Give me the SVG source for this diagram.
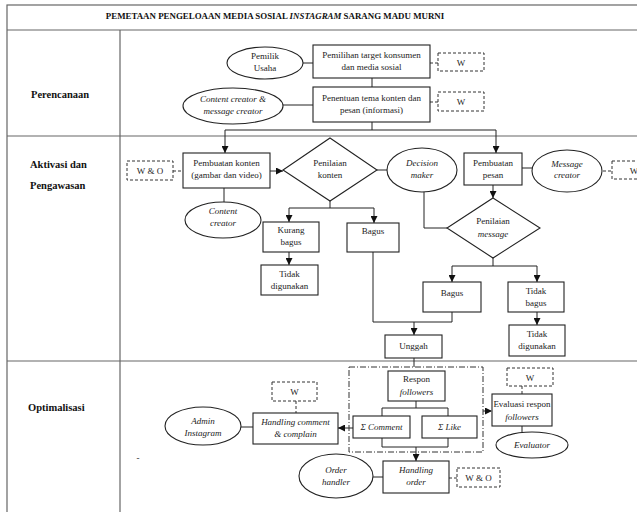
<svg xmlns="http://www.w3.org/2000/svg" width="637" height="512" viewBox="0 0 637 512">
<style>
.t{font-family:"Liberation Serif","Times New Roman","DejaVu Serif",serif;font-size:9px;fill:#222;text-anchor:middle}
.i{font-style:italic}
.lab{font-family:"Liberation Serif","Times New Roman","DejaVu Serif",serif;font-size:10.5px;font-weight:bold;fill:#111}
.ttl{font-family:"Liberation Serif","Times New Roman","DejaVu Serif",serif;font-size:8.9px;font-weight:bold;fill:#111;text-anchor:middle}
.grid{fill:none;stroke:#666;stroke-width:1.2}
.box{fill:#fff;stroke:#222;stroke-width:1.1}
.dbox{fill:#fff;stroke:#333;stroke-width:1;stroke-dasharray:3,2}
.ln{fill:none;stroke:#222;stroke-width:1}
.dl{fill:none;stroke:#333;stroke-width:1;stroke-dasharray:3,2}
.ar{fill:none;stroke:#222;stroke-width:1;marker-end:url(#ah)}
</style>
<defs>
<marker id="ah" viewBox="0 0 8 8" refX="8" refY="4" markerWidth="7" markerHeight="7" markerUnits="userSpaceOnUse" orient="auto">
<path d="M0,0 L8,4 L0,8 z" fill="#111"/>
</marker>
</defs>
<rect width="637" height="512" fill="#fff"/>
<g id="table">
<rect class="grid" x="7" y="5" width="640" height="520"/>
<line class="grid" x1="7" y1="30" x2="637" y2="30"/>
<line class="grid" x1="120" y1="30" x2="120" y2="512"/>
<line class="grid" x1="7" y1="136" x2="637" y2="136"/>
<line class="grid" x1="7" y1="361" x2="637" y2="361"/>
<text class="ttl" x="275" y="19">PEMETAAN PENGELOAAN MEDIA SOSIAL <tspan font-style="italic">INSTAGRAM</tspan> SARANG MADU MURNI</text>
<text class="lab" x="31" y="98">Perencanaan</text>
<text class="lab" x="30" y="168">Aktivasi dan</text>
<text class="lab" x="30" y="189">Pengawasan</text>
<text class="lab" x="28" y="411">Optimalisasi</text>
<text class="t" x="138" y="461">-</text>
</g>
<g id="connectors">
<line class="ln" x1="303" y1="63" x2="313" y2="63"/>
<line class="dl" x1="430" y1="63" x2="438" y2="63"/>
<line class="ln" x1="372" y1="78" x2="372" y2="87"/>
<line class="ln" x1="283" y1="105" x2="313" y2="105"/>
<line class="dl" x1="430" y1="102" x2="438" y2="102"/>
<polyline class="ln" points="372,122 372,130"/>
<line class="ln" x1="225" y1="130" x2="496" y2="130"/>
<line class="ar" x1="225" y1="130" x2="225" y2="153"/>
<line class="ar" x1="496" y1="130" x2="496" y2="153"/>
<line class="dl" x1="173" y1="171" x2="183" y2="171"/>
<line class="ar" x1="270" y1="171" x2="283" y2="171"/>
<line class="ln" x1="224" y1="188" x2="224" y2="202"/>
<line class="ln" x1="377" y1="170" x2="387" y2="170"/>
<polyline class="ln" points="424,192 424,228 447,228"/>
<line class="ln" x1="522" y1="168" x2="532" y2="168"/>
<line class="dl" x1="603" y1="171" x2="612" y2="171"/>
<line class="ar" x1="493" y1="185" x2="493" y2="198"/>
<line class="ln" x1="330" y1="201" x2="330" y2="208"/>
<line class="ln" x1="289" y1="208" x2="374" y2="208"/>
<line class="ar" x1="289" y1="208" x2="289" y2="222"/>
<line class="ar" x1="374" y1="208" x2="374" y2="223"/>
<line class="ar" x1="289" y1="252" x2="289" y2="265"/>
<line class="ln" x1="493" y1="258" x2="493" y2="266"/>
<line class="ln" x1="452" y1="266" x2="537" y2="266"/>
<line class="ar" x1="452" y1="266" x2="452" y2="282"/>
<line class="ar" x1="537" y1="266" x2="537" y2="282"/>
<line class="ar" x1="537" y1="312" x2="537" y2="325"/>
<polyline class="ln" points="373,252 373,322 452,322 452,312"/>
<line class="ar" x1="414" y1="322" x2="414" y2="335"/>
<line class="ln" x1="414" y1="358" x2="414" y2="367"/>
<line class="ln" x1="416" y1="401" x2="416" y2="408"/>
<polyline class="ln" points="382,416 382,408 448,408 448,416"/>
<polyline class="ln" points="382,438 382,447 448,447 448,438"/>
<line class="ar" x1="416" y1="447" x2="416" y2="461"/>
<line class="ar" x1="353" y1="428" x2="338" y2="428"/>
<line class="dl" x1="296" y1="401" x2="296" y2="413"/>
<line class="ln" x1="241" y1="427" x2="253" y2="427"/>
<line class="ln" x1="373" y1="477" x2="383" y2="477"/>
<line class="dl" x1="449" y1="478" x2="457" y2="478"/>
<line class="ar" x1="483" y1="411" x2="492" y2="411" stroke-dasharray="3,2"/>
<line class="dl" x1="522" y1="386" x2="522" y2="394"/>
<line class="ln" x1="522" y1="426" x2="522" y2="432"/>
</g>
<g id="pemilik"><ellipse class="box" cx="265" cy="63" rx="38" ry="16"/><text class="t" x="265" y="59">Pemilik</text><text class="t" x="265" y="71">Usaha</text></g>
<g id="pemilihan"><rect class="box" x="313" y="45" width="117" height="33"/><text class="t" x="371.5" y="58">Pemilihan target konsumen</text><text class="t" x="371.5" y="70">dan media sosial</text></g>
<g id="w1"><rect class="dbox" x="438" y="53" width="46" height="18"/><text class="t" x="461" y="66">W</text></g>
<g id="cc_mc"><ellipse class="box" cx="233" cy="106" rx="50" ry="18"/><text class="t i" x="233" y="102">Content creator &amp;</text><text class="t i" x="233" y="114">message creator</text></g>
<g id="penentuan"><rect class="box" x="313" y="87" width="117" height="35"/><text class="t" x="371.5" y="101">Penentuan tema konten dan</text><text class="t" x="371.5" y="113">pesan (informasi)</text></g>
<g id="w2"><rect class="dbox" x="438" y="92" width="46" height="19"/><text class="t" x="461" y="105">W</text></g>
<g id="wo1"><rect class="dbox" x="127" y="161" width="46" height="19"/><text class="t" x="150" y="174">W &amp; O</text></g>
<g id="pembuatan_konten"><rect class="box" x="183" y="153" width="87" height="35"/><text class="t" x="226.5" y="166">Pembuatan konten</text><text class="t" x="226.5" y="178">(gambar dan video)</text></g>
<g id="content_creator"><ellipse class="box" cx="223" cy="220" rx="38" ry="18"/><text class="t i" x="223" y="214">Content</text><text class="t i" x="223" y="226">creator</text></g>
<g id="penilaian_konten"><polygon class="box" points="330,138 377,170 330,201 283,170"/><text class="t" x="330" y="166">Penilaian</text><text class="t" x="330" y="178">konten</text></g>
<g id="decision_maker"><ellipse class="box" cx="422" cy="170" rx="35" ry="22"/><text class="t i" x="422" y="166">Decision</text><text class="t i" x="422" y="178">maker</text></g>
<g id="pembuatan_pesan"><rect class="box" x="464" y="153" width="58" height="32"/><text class="t" x="493" y="166">Pembuatan</text><text class="t" x="493" y="178">pesan</text></g>
<g id="message_creator"><ellipse class="box" cx="567" cy="171" rx="35" ry="21"/><text class="t i" x="567" y="167">Message</text><text class="t i" x="567" y="178">creator</text></g>
<g id="w3"><rect class="dbox" x="612" y="161" width="46" height="18"/><text class="t" x="634" y="174">W</text></g>
<g id="kurang_bagus"><rect class="box" x="263" y="222" width="56" height="30"/><text class="t" x="291" y="233">Kurang</text><text class="t" x="291" y="245">bagus</text></g>
<g id="bagus1"><rect class="box" x="347" y="223" width="52" height="29"/><text class="t" x="373" y="234">Bagus</text></g>
<g id="tidak_digunakan1"><rect class="box" x="261" y="265" width="57" height="30"/><text class="t" x="289.5" y="277">Tidak</text><text class="t" x="289.5" y="289">digunakan</text></g>
<g id="penilaian_message"><polygon class="box" points="493,198 540,228 493,258 447,228"/><text class="t" x="493" y="224">Penilaian</text><text class="t i" x="493" y="237">message</text></g>
<g id="bagus2"><rect class="box" x="423" y="282" width="58" height="30"/><text class="t" x="452" y="296">Bagus</text></g>
<g id="tidak_bagus"><rect class="box" x="508" y="282" width="56" height="30"/><text class="t" x="536" y="294">Tidak</text><text class="t" x="536" y="306">bagus</text></g>
<g id="tidak_digunakan2"><rect class="box" x="509" y="325" width="56" height="31"/><text class="t" x="537" y="337">Tidak</text><text class="t" x="537" y="349">digunakan</text></g>
<g id="unggah"><rect class="box" x="385" y="335" width="57" height="23"/><text class="t" x="413.5" y="349">Unggah</text></g>
<g id="group_respon"><rect x="349" y="367" width="134" height="85" fill="none" stroke="#333" stroke-width="1" stroke-dasharray="6,2,1,2"/></g>
<g id="respon"><rect class="box" x="388" y="371" width="57" height="30"/><text class="t" x="416.5" y="382">Respon</text><text class="t i" x="416.5" y="395">followers</text></g>
<g id="sum_comment"><rect class="box" x="353" y="416" width="57" height="22"/><text class="t i" x="381.5" y="430">Σ Comment</text></g>
<g id="sum_like"><rect class="box" x="422" y="416" width="55" height="22"/><text class="t i" x="449.5" y="430">Σ Like</text></g>
<g id="w4"><rect class="dbox" x="272" y="382" width="45" height="19"/><text class="t" x="294.5" y="395">W</text></g>
<g id="handling_comment"><rect class="box" x="253" y="413" width="85" height="31"/><text class="t i" x="295.5" y="425">Handling comment</text><text class="t i" x="295.5" y="437">&amp; complain</text></g>
<g id="admin"><ellipse class="box" cx="203" cy="426" rx="38" ry="19"/><text class="t i" x="203" y="424">Admin</text><text class="t i" x="203" y="436">Instagram</text></g>
<g id="w5"><rect class="dbox" x="507" y="368" width="46" height="18"/><text class="t" x="530" y="381">W</text></g>
<g id="evaluasi"><rect class="box" x="492" y="394" width="60" height="32"/><text class="t" x="522" y="407" font-size="8.6">Evaluasi respon</text><text class="t i" x="522" y="420">followers</text></g>
<g id="evaluator"><ellipse class="box" cx="532" cy="445" rx="36" ry="13"/><text class="t i" x="532" y="448">Evaluator</text></g>
<g id="order_handler"><ellipse class="box" cx="336" cy="476" rx="37" ry="22"/><text class="t i" x="336" y="473">Order</text><text class="t i" x="336" y="485">handler</text></g>
<g id="handling_order"><rect class="box" x="383" y="461" width="66" height="32"/><text class="t i" x="416" y="473">Handling</text><text class="t i" x="416" y="485">order</text></g>
<g id="wo2"><rect class="dbox" x="457" y="468" width="43" height="19"/><text class="t" x="478.5" y="481">W &amp; O</text></g>
</svg>
